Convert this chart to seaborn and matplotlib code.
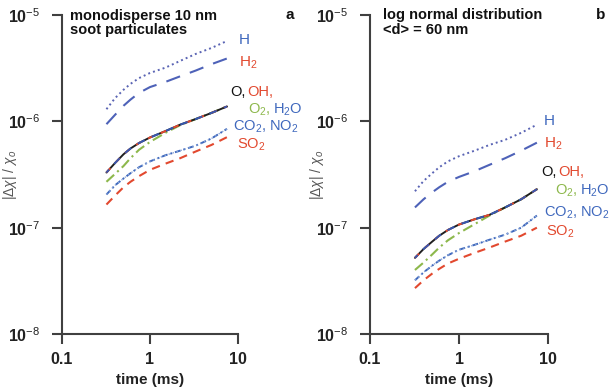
import numpy as np
import pandas as pd
import matplotlib
matplotlib.use("Agg")
import matplotlib.pyplot as plt
import seaborn as sns
from matplotlib.ticker import NullLocator, FixedLocator, FixedFormatter

# ---------------- data ----------------
time_ms = [0.32, 0.4, 0.5, 0.6, 0.75, 1.0, 1.5, 2.2, 3.3, 5.0, 7.5]

# panel a : monodisperse 10 nm soot
a_H    = [1.3e-6, 1.65e-6, 1.98e-6, 2.25e-6, 2.55e-6, 2.85e-6, 3.2e-6, 3.7e-6, 4.3e-6, 4.9e-6, 5.7e-6]
a_H2   = [9.4e-7, 1.15e-6, 1.4e-6, 1.6e-6, 1.85e-6, 2.1e-6, 2.35e-6, 2.65e-6, 3.0e-6, 3.45e-6, 3.9e-6]
a_main = [3.3e-7, 4.05e-7, 4.9e-7, 5.55e-7, 6.25e-7, 7.05e-7, 8.1e-7, 9.3e-7, 1.05e-6, 1.2e-6, 1.38e-6]
a_O2   = [2.7e-7, 3.2e-7, 3.8e-7, 4.5e-7, 5.4e-7, 6.4e-7, 7.8e-7, 9.2e-7, 1.05e-6, 1.2e-6, 1.38e-6]
a_CO2  = [2.05e-7, 2.5e-7, 2.9e-7, 3.25e-7, 3.7e-7, 4.2e-7, 4.8e-7, 5.3e-7, 5.9e-7, 6.9e-7, 8.5e-7]
a_SO2  = [1.65e-7, 2.0e-7, 2.4e-7, 2.7e-7, 3.05e-7, 3.5e-7, 4.0e-7, 4.5e-7, 5.2e-7, 6.0e-7, 7.1e-7]

# panel b : log normal distribution <d> = 60 nm
b_H    = [2.2e-7, 2.75e-7, 3.25e-7, 3.7e-7, 4.2e-7, 4.7e-7, 5.3e-7, 6.0e-7, 6.7e-7, 7.8e-7, 9.3e-7]
b_H2   = [1.55e-7, 1.85e-7, 2.15e-7, 2.4e-7, 2.7e-7, 3.0e-7, 3.4e-7, 3.9e-7, 4.5e-7, 5.3e-7, 6.3e-7]
b_main = [5.2e-8, 6.3e-8, 7.4e-8, 8.4e-8, 9.5e-8, 1.07e-7, 1.2e-7, 1.32e-7, 1.55e-7, 1.85e-7, 2.3e-7]
b_O2   = [4.0e-8, 4.7e-8, 5.6e-8, 6.5e-8, 7.6e-8, 8.9e-8, 1.08e-7, 1.3e-7, 1.55e-7, 1.85e-7, 2.3e-7]
b_CO2  = [3.2e-8, 3.8e-8, 4.4e-8, 4.9e-8, 5.5e-8, 6.2e-8, 6.9e-8, 7.7e-8, 8.6e-8, 1.0e-7, 1.3e-7]
b_SO2  = [2.7e-8, 3.2e-8, 3.7e-8, 4.1e-8, 4.6e-8, 5.1e-8, 5.8e-8, 6.5e-8, 7.4e-8, 8.4e-8, 1.0e-7]

x_ticks = [0.1, 1, 10]
x_ticklabels = ["0.1", "1", "10"]
y_ticks = [1e-8, 1e-7, 1e-6, 1e-5]
y_ticklabels = [r"$\mathbf{10}^{-8}$", r"$\mathbf{10}^{-7}$", r"$\mathbf{10}^{-6}$", r"$\mathbf{10}^{-5}$"]

# ---------------- style ----------------
sns.set_theme(style="ticks")
plt.rcParams["font.family"] = ["Liberation Sans", "DejaVu Sans"]
plt.rcParams["mathtext.fontset"] = "custom"
plt.rcParams["mathtext.rm"] = "Liberation Sans"
plt.rcParams["mathtext.it"] = "Liberation Sans:italic"
plt.rcParams["mathtext.bf"] = "Liberation Sans:bold"

BLUE = "#3f68bd"
LBLUE = "#5a64b4"
RED = "#e2492f"
GREEN = "#8db84c"
AXC = "#404040"

W, H = 612, 392
fig = plt.figure(figsize=(6.12, 3.92), dpi=100)

def fx(px):
    return px / W

def fy(py):
    return 1 - py / H

ax_a = fig.add_axes([fx(62), fy(334), fx(238) - fx(62), fy(15) - fy(334)])
ax_b = fig.add_axes([fx(370), fy(334), fx(548) - fx(370), fy(15) - fy(334)])

def draw(ax, H_, H2_, main_, O2_, CO2_, SO2_):
    t = time_ms
    sns.lineplot(x=t, y=H_, ax=ax, color=LBLUE, lw=1.4, linestyle=(0, (1, 1.6)))
    sns.lineplot(x=t, y=H2_, ax=ax, color="#4e62b8", lw=1.5, linestyle=(0, (7, 5)))
    sns.lineplot(x=t, y=CO2_, ax=ax, color=BLUE, lw=1.4, linestyle=(0, (3, 1.5, 1, 1.5)))
    sns.lineplot(x=t, y=CO2_, ax=ax, color="#8aa6d8", lw=1.0, linestyle=(0, (1, 2)))
    sns.lineplot(x=t, y=SO2_, ax=ax, color=RED, lw=1.5, linestyle=(0, (4, 3)))
    sns.lineplot(x=t, y=O2_, ax=ax, color=GREEN, lw=1.5, linestyle=(0, (5, 2, 1, 2)))
    sns.lineplot(x=t, y=main_, ax=ax, color="#202020", lw=1.4, linestyle="-")
    sns.lineplot(x=t, y=main_, ax=ax, color=RED, lw=1.4, linestyle=(0, (3, 4)))
    sns.lineplot(x=t, y=main_, ax=ax, color="#3858b0", lw=1.4, linestyle=(2, (4, 4)))
    ax.set_xscale("log")
    ax.set_yscale("log")
    ax.set_xlim(0.1, 10)
    ax.set_ylim(1e-8, 1e-5)
    ax.xaxis.set_major_locator(FixedLocator(x_ticks))
    ax.xaxis.set_major_formatter(FixedFormatter(x_ticklabels))
    ax.yaxis.set_major_locator(FixedLocator(y_ticks))
    ax.yaxis.set_major_formatter(FixedFormatter(y_ticklabels))
    ax.xaxis.set_minor_locator(NullLocator())
    ax.yaxis.set_minor_locator(NullLocator())
    for s in ["top", "right"]:
        ax.spines[s].set_visible(False)
    for s in ["left", "bottom"]:
        ax.spines[s].set_color(AXC)
        ax.spines[s].set_linewidth(1.5)
    ax.tick_params(axis="both", direction="out", length=7, width=1.5, color=AXC,
                   labelsize=11.5, labelcolor="#222222")
    ax.tick_params(axis="y", pad=9)
    ax.tick_params(axis="x", pad=6)
    ax.set_facecolor("white")
    ax.set_xlabel("time (ms)", fontsize=11, color="#222222", labelpad=4)
    ax.set_ylabel(r"$|\Delta\chi|$ / $\chi_o$", fontsize=10, color="#555555")
    ax.yaxis.set_label_coords(-0.245, 0.5)
    for lab in ax.get_xticklabels() + ax.get_yticklabels():
        lab.set_fontweight("bold")
    ax.xaxis.label.set_fontweight("bold")

draw(ax_a, a_H, a_H2, a_main, a_O2, a_CO2, a_SO2)
draw(ax_b, b_H, b_H2, b_main, b_O2, b_CO2, b_SO2)

def txt(px, py, s, color, size=10.5, weight="normal", ha="left"):
    fig.text(fx(px), fy(py), s, color=color, fontsize=size, fontweight=weight,
             ha=ha, va="center")

# panel a annotations
txt(70, 16, "monodisperse 10 nm", "#111111", 10.5, "bold")
txt(70, 30, "soot particulates", "#111111", 10.5, "bold")
txt(286, 15, "a", "#111111", 11, "bold")
txt(239, 40, "H", BLUE, 11)
txt(239, 63, r"H$_2$", RED, 11)
txt(230, 92, "O,", "#111111", 10.5)
txt(247, 92, "OH,", RED, 10.5)
txt(248, 110, r"O$_2$,", GREEN, 10.5)
txt(273, 110, r"H$_2$O", BLUE, 10.5)
txt(233, 127, r"CO$_2$, NO$_2$", BLUE, 10.5)
txt(237, 145, r"SO$_2$", RED, 10.5)

# panel b annotations
txt(383, 15, "log normal distribution", "#111111", 10.5, "bold")
txt(383, 30, "<d> = 60 nm", "#111111", 10.5, "bold")
txt(596, 15, "b", "#111111", 11, "bold")
txt(544, 121, "H", BLUE, 11)
txt(544, 144, r"H$_2$", RED, 11)
txt(541, 172, "O,", "#111111", 10.5)
txt(558, 172, "OH,", RED, 10.5)
txt(555, 191, r"O$_2$,", GREEN, 10.5)
txt(580, 191, r"H$_2$O", BLUE, 10.5)
txt(544, 213, r"CO$_2$, NO$_2$", BLUE, 10.5)
txt(546, 232, r"SO$_2$", RED, 10.5)

fig.savefig("out.png", dpi=100, facecolor="white")
